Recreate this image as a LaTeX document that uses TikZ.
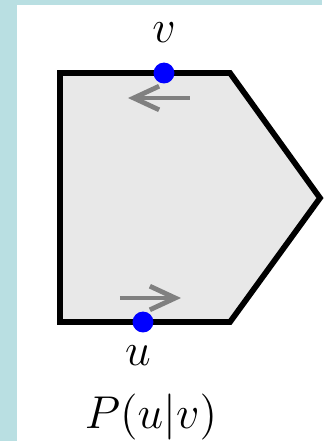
\documentclass[tikz,border=0pt]{standalone}
\usepackage{amsmath}
\usepackage{tikz}
\usetikzlibrary{arrows.meta}
\definecolor{frameblue}{RGB}{185,223,226}
\definecolor{facegray}{RGB}{232,232,232}
\definecolor{dirgray}{RGB}{128,128,128}

\begin{document}
\begin{tikzpicture}[
    x=0.011cm, y=-0.011cm,
    face/.style={draw=black, fill=facegray, line width=1.8pt},
    pt/.style={circle, fill=blue, inner sep=0pt, minimum size=0.23cm},
    dir/.style={-{Straight Barb[length=2.8mm,width=2.6mm]}, line width=1.5pt, dirgray},
    lbl/.style={anchor=base, inner sep=0pt, font=\Large}
]
\useasboundingbox (0,0) rectangle (328,441);
\fill[frameblue] (0,0) rectangle (17,441);
\fill[frameblue] (17,0) rectangle (322,5);

\draw[face] (60,73) -- (230,73) -- (320,198) -- (230,322) -- (60,322) -- cycle;

\node[pt] (v) at (164,73) {};
\node[pt] (u) at (143,322) {};
\node[lbl] (vl) at (164,42) {$v$};
\node[lbl] (ul) at (138,365) {$u$};

\coordinate (ts) at (190,98);
\coordinate (te) at (128,98);
\coordinate (bs) at (120,298);
\coordinate (be) at (181,298);
\draw[dir] (ts) -- (te);
\draw[dir] (bs) -- (be);

\node[lbl, font=\fontsize{15.5pt}{18pt}\selectfont] (prob) at (151,428) {$P(u|v)$};
\end{tikzpicture}
\end{document}
